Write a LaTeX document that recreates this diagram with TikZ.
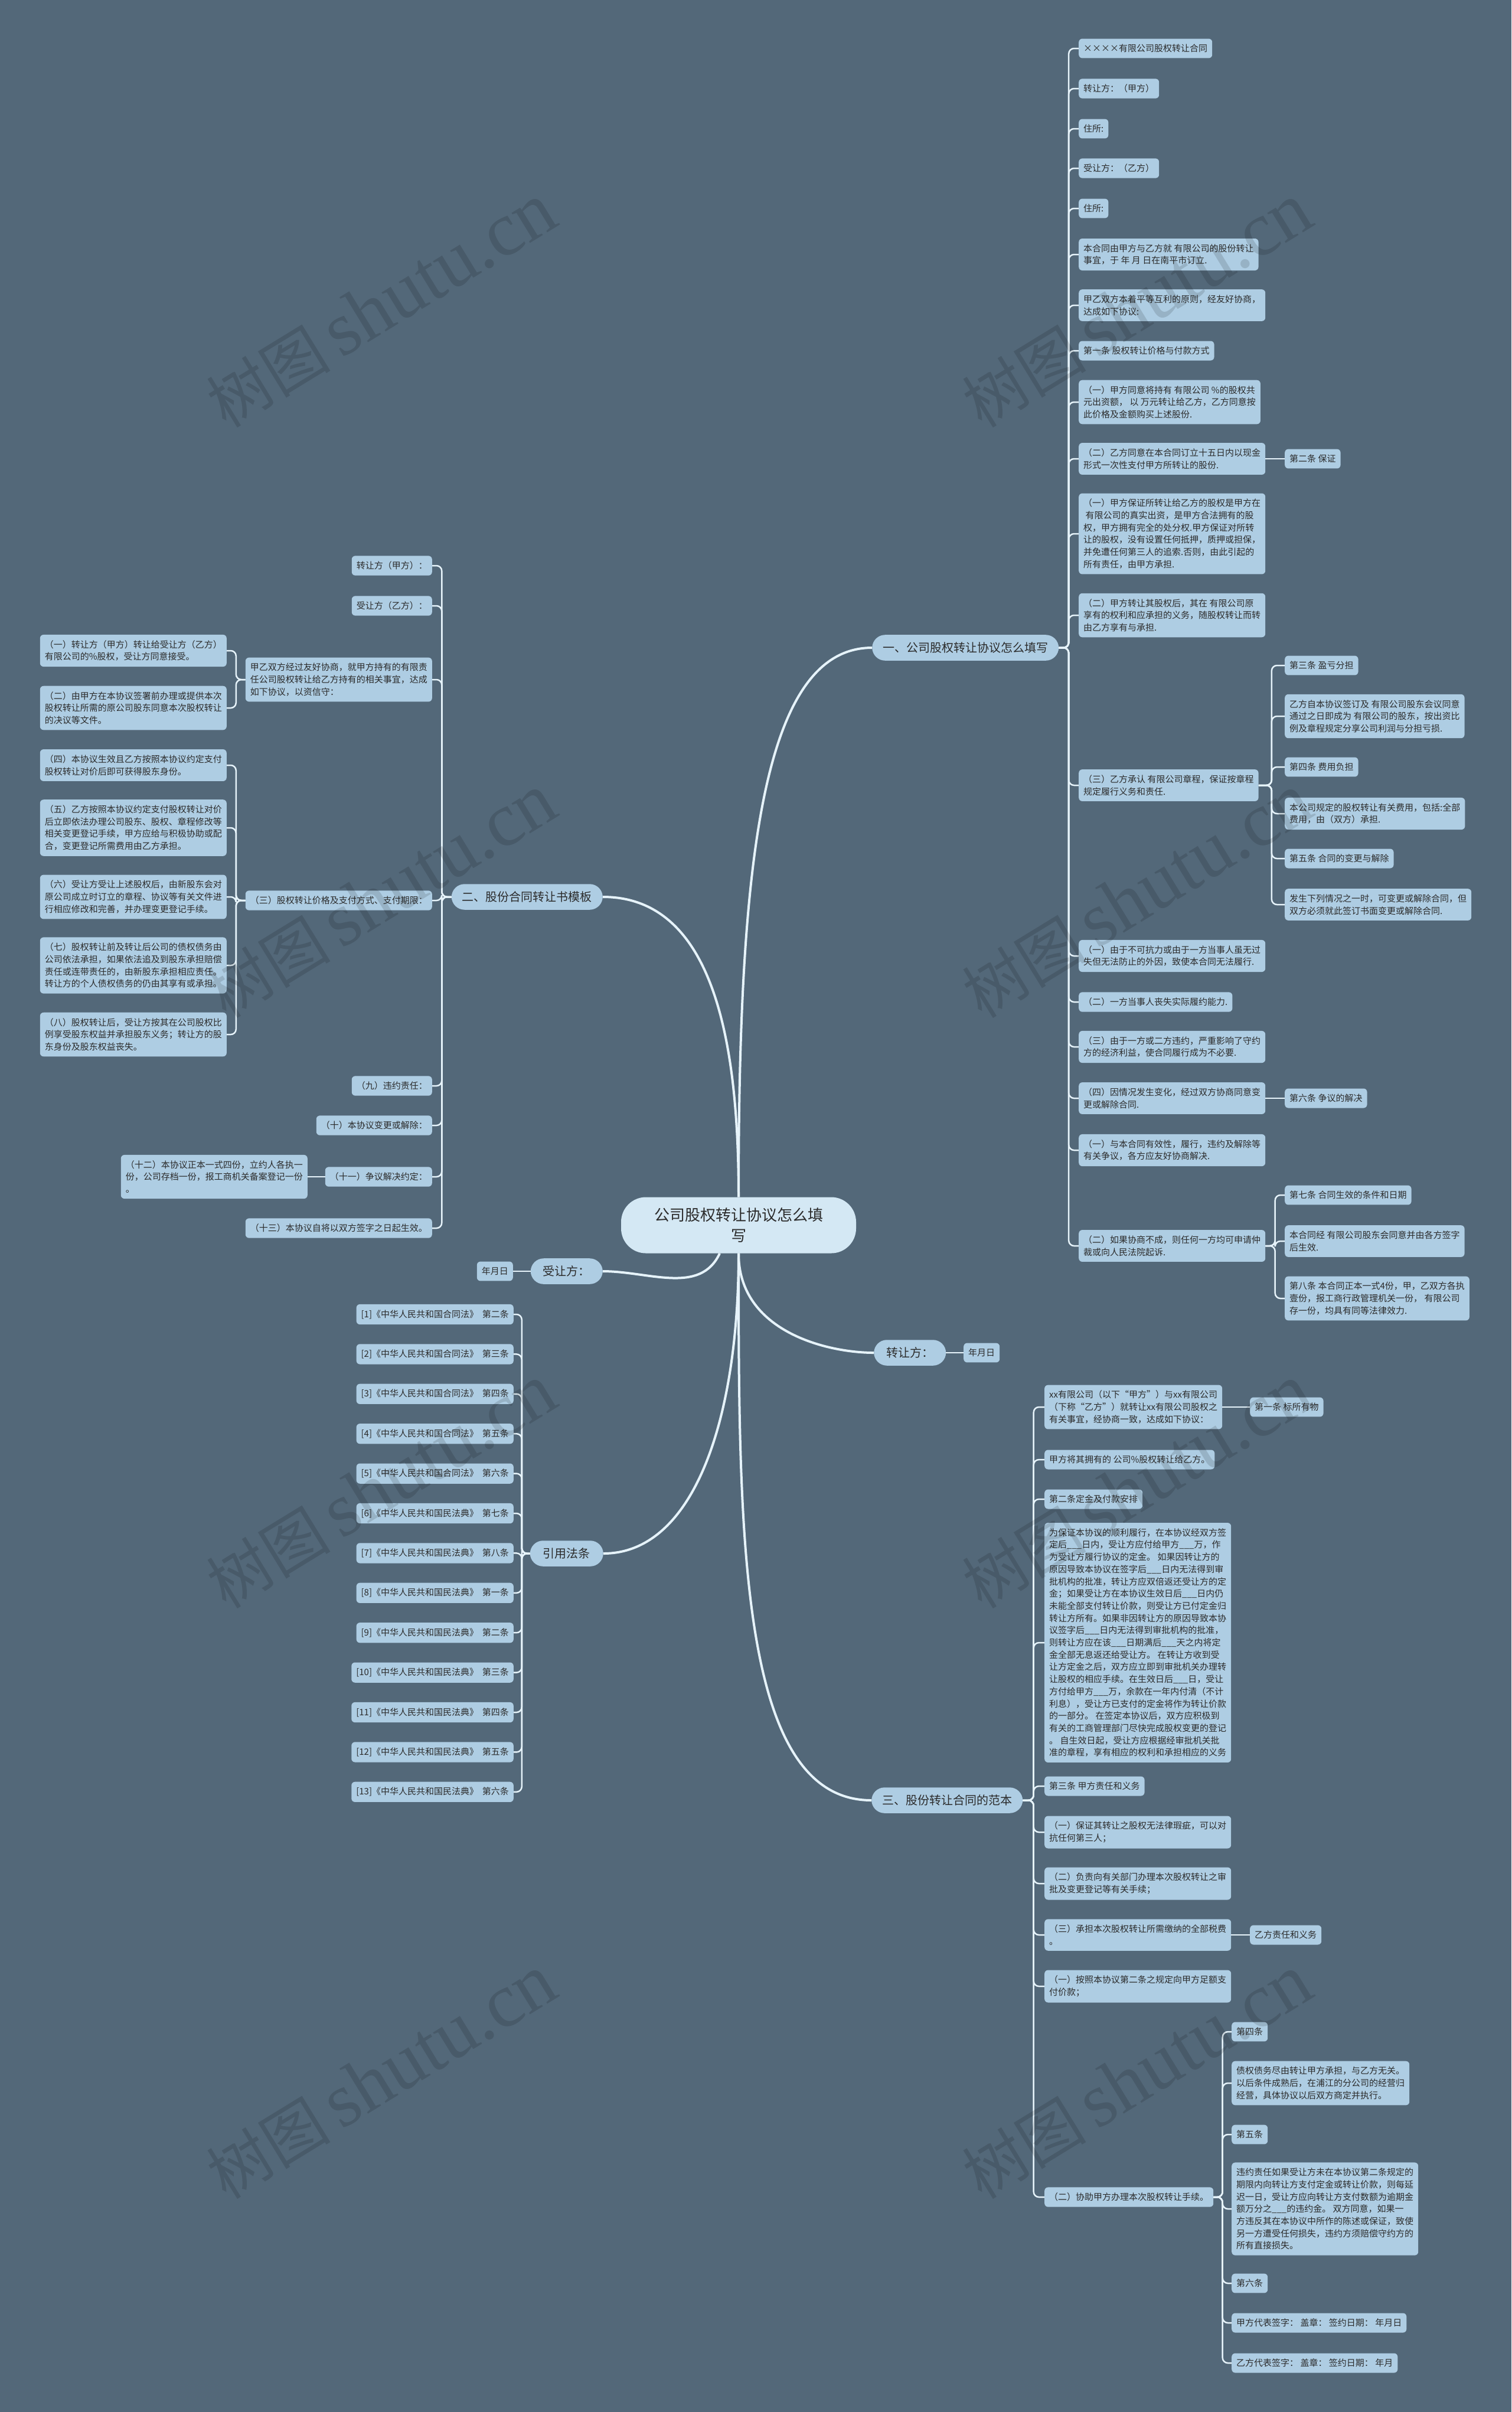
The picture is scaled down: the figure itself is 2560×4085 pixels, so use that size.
\documentclass[tikz,border=0pt]{standalone}
\usepackage{fontspec}
\setmainfont{Noto Sans CJK SC}
\newfontfamily\wmserif{Liberation Serif}
\usetikzlibrary{calc}
\definecolor{bgc}{HTML}{536879}
\definecolor{leafc}{HTML}{AECDE3}
\definecolor{rootc}{HTML}{D4E8F4}
\definecolor{linec}{HTML}{E6F3FA}
\definecolor{txtc}{HTML}{2B2B2B}
\tikzset{
 leaf/.style={fill=leafc, rounded corners=6pt, text=txtc, font=\fontsize{15}{20.7}\selectfont, inner xsep=8pt, inner ysep=9.5pt, align=left},
 lvone/.style={fill=leafc, rounded corners=22pt, text=txtc, font=\fontsize{20}{26}\selectfont, inner xsep=18pt, inner ysep=12.5pt},
 rootn/.style={fill=rootc, rounded corners=42pt, text=txtc, font=\fontsize{26}{35}\selectfont, minimum width=398pt, minimum height=95pt, align=center},
 conn/.style={draw=linec, line width=2.5pt, rounded corners=9pt},
 mainconn/.style={draw=linec, line width=4pt},
 wmark/.style={rotate=31.5, text=black, opacity=0.13},
}
\newcommand{\conR}[2]{\draw[conn] let \p1=(#1.east), \p2=(#2.west) in (\p1) -- ({(\x1+\x2)/2},\y1) |- (\p2);}
\newcommand{\conL}[2]{\draw[conn] let \p1=(#1.west), \p2=(#2.east) in (\p1) -- ({(\x1+\x2)/2},\y1) |- (\p2);}
\begin{document}
\begin{tikzpicture}[x=1pt,y=1pt]
\fill[bgc] (0,0) rectangle (2560,-4085);
\useasboundingbox (0,0) rectangle (2560,-4085);

% root
\node[rootn] (root) at (1251,-2075) {公司股权转让协议怎么填\\写};

% ---------- branch 1 ----------
\node[lvone, anchor=west] (b1) at (1477,-1097) {一、公司股权转让协议怎么填写};
\begin{scope}[every node/.style={leaf, anchor=west}]
\node (a1) at (1827,-82) {××××有限公司股权转让合同};
\node (a2) at (1827,-150) {转让方：（甲方）};
\node (a3) at (1827,-218) {住所:};
\node (a4) at (1827,-285) {受让方：（乙方）};
\node (a5) at (1827,-353) {住所:};
\node (a6) at (1827,-431) {本合同由甲方与乙方就 有限公司的股份转让\\事宜，于 年 月 日在南平市订立.};
\node (a7) at (1827,-517) {甲乙双方本着平等互利的原则，经友好协商，\\达成如下协议:};
\node (a8) at (1827,-594) {第一条 股权转让价格与付款方式};
\node (a9) at (1827,-681) {（一）甲方同意将持有 有限公司 \%的股权共\\元出资额， 以 万元转让给乙方，乙方同意按\\此价格及金额购买上述股份.};
\node (a10) at (1827,-777) {（二）乙方同意在本合同订立十五日内以现金\\形式一次性支付甲方所转让的股份.};
\node (a10c) at (2176,-777) {第二条 保证};
\node (a11) at (1827,-904) {（一）甲方保证所转让给乙方的股权是甲方在\\~有限公司的真实出资，是甲方合法拥有的股\\权，甲方拥有完全的处分权.甲方保证对所转\\让的股权，没有设置任何抵押，质押或担保，\\并免遭任何第三人的追索.否则，由此引起的\\所有责任，由甲方承担.};
\node (a12) at (1827,-1042) {（二）甲方转让其股权后，其在 有限公司原\\享有的权利和应承担的义务，随股权转让而转\\由乙方享有与承担.};
\node (a13) at (1827,-1330) {（三）乙方承认 有限公司章程，保证按章程\\规定履行义务和责任.};
\node (a13a) at (2176,-1127) {第三条 盈亏分担};
\node (a13b) at (2176,-1213) {乙方自本协议签订及 有限公司股东会议同意\\通过之日即成为 有限公司的股东，按出资比\\例及章程规定分享公司利润与分担亏损.};
\node (a13c) at (2176,-1299) {第四条 费用负担};
\node (a13d) at (2176,-1378) {本公司规定的股权转让有关费用，包括:全部\\费用，由（双方）承担.};
\node (a13e) at (2176,-1454) {第五条 合同的变更与解除};
\node (a13f) at (2176,-1532) {发生下列情况之一时，可变更或解除合同，但\\双方必须就此签订书面变更或解除合同.};
\node (a14) at (1827,-1619) {（一）由于不可抗力或由于一方当事人虽无过\\失但无法防止的外因，致使本合同无法履行.};
\node (a15) at (1827,-1697) {（二）一方当事人丧失实际履约能力.};
\node (a16) at (1827,-1773) {（三）由于一方或二方违约，严重影响了守约\\方的经济利益，使合同履行成为不必要.};
\node (a17) at (1827,-1860) {（四）因情况发生变化，经过双方协商同意变\\更或解除合同.};
\node (a17c) at (2176,-1860) {第六条 争议的解决};
\node (a18) at (1827,-1948) {（一）与本合同有效性，履行，违约及解除等\\有关争议，各方应友好协商解决.};
\node (a19) at (1827,-2110) {（二）如果协商不成，则任何一方均可申请仲\\裁或向人民法院起诉.};
\node (a19a) at (2176,-2024) {第七条 合同生效的条件和日期};
\node (a19b) at (2176,-2102) {本合同经 有限公司股东会同意并由各方签字\\后生效.};
\node (a19c) at (2176,-2199) {第八条 本合同正本一式4份，甲，乙双方各执\\壹份，报工商行政管理机关一份， 有限公司\\存一份，均具有同等法律效力.};
\end{scope}
\foreach \nd in {a1,a2,a3,a4,a5,a6,a7,a8,a9,a10,a11,a12,a13,a14,a15,a16,a17,a18,a19} {\conR{b1}{\nd}}
\draw[conn] (a10.east) -- (a10c.west);
\draw[conn] (a17.east) -- (a17c.west);
\foreach \nd in {a13a,a13b,a13c,a13d,a13e,a13f} {\conR{a13}{\nd}}
\foreach \nd in {a19a,a19b,a19c} {\conR{a19}{\nd}}

% ---------- branch 2 ----------
\node[lvone, anchor=east] (b2) at (1021,-1519) {二、股份合同转让书模板};
\begin{scope}[every node/.style={leaf, anchor=east}]
\node (l1) at (732,-958) {转让方（甲方）：};
\node (l2) at (732,-1026) {受让方（乙方）：};
\node (l3) at (732,-1151) {甲乙双方经过友好协商，就甲方持有的有限责\\任公司股权转让给乙方持有的相关事宜，达成\\如下协议，以资信守：};
\node (l3a) at (384,-1102) {（一）转让方（甲方）转让给受让方（乙方）\\有限公司的\%股权，受让方同意接受。};
\node (l3b) at (384,-1199) {（二）由甲方在本协议签署前办理或提供本次\\股权转让所需的原公司股东同意本次股权转让\\的决议等文件。};
\node (l4) at (732,-1525) {（三）股权转让价格及支付方式、支付期限：};
\node (l4a) at (384,-1296) {（四）本协议生效且乙方按照本协议约定支付\\股权转让对价后即可获得股东身份。};
\node (l4b) at (384,-1402) {（五）乙方按照本协议约定支付股权转让对价\\后立即依法办理公司股东、股权、章程修改等\\相关变更登记手续，甲方应给与积极协助或配\\合，变更登记所需费用由乙方承担。};
\node (l4c) at (384,-1519) {（六）受让方受让上述股权后，由新股东会对\\原公司成立时订立的章程、协议等有关文件进\\行相应修改和完善，并办理变更登记手续。};
\node (l4d) at (384,-1635) {（七）股权转让前及转让后公司的债权债务由\\公司依法承担，如果依法追及到股东承担赔偿\\责任或连带责任的，由新股东承担相应责任。\\转让方的个人债权债务的仍由其享有或承担。};
\node (l4e) at (384,-1752) {（八）股权转让后，受让方按其在公司股权比\\例享受股东权益并承担股东义务；转让方的股\\东身份及股东权益丧失。};
\node (l5) at (732,-1839) {（九）违约责任：};
\node (l6) at (732,-1906) {（十）本协议变更或解除：};
\node (l7) at (732,-1993) {（十一）争议解决约定：};
\node (l7a) at (521,-1993) {（十二）本协议正本一式四份，立约人各执一\\份，公司存档一份，报工商机关备案登记一份\\。};
\node (l8) at (732,-2080) {（十三）本协议自将以双方签字之日起生效。};
\end{scope}
\foreach \nd in {l1,l2,l3,l4,l5,l6,l7,l8} {\conL{b2}{\nd}}
\foreach \nd in {l3a,l3b} {\conL{l3}{\nd}}
\foreach \nd in {l4a,l4b,l4c,l4d,l4e} {\conL{l4}{\nd}}
\draw[conn] (l7.west) -- (l7a.east);

% ---------- 受让方 / 转让方 ----------
\node[lvone, anchor=east, minimum width=122pt] (bs) at (1021,-2153) {受让方：};
\node[leaf, anchor=east] (bsd) at (869,-2153) {年月日};
\draw[conn] (bs.west) -- (bsd.east);
\node[lvone, anchor=west, minimum width=122pt] (bz) at (1480,-2291) {转让方：};
\node[leaf, anchor=west] (bzd) at (1632,-2291) {年月日};
\draw[conn] (bz.east) -- (bzd.west);

% ---------- 引用法条 ----------
\node[lvone, anchor=east, minimum width=124pt] (bc) at (1022,-2631) {引用法条};
\begin{scope}[every node/.style={leaf, anchor=east}]
\node (r1) at (870,-2226) {[1]《中华人民共和国合同法》\ \ 第二条};
\node (r2) at (870,-2293.4) {[2]《中华人民共和国合同法》\ \ 第三条};
\node (r3) at (870,-2360.8) {[3]《中华人民共和国合同法》\ \ 第四条};
\node (r4) at (870,-2428.2) {[4]《中华人民共和国合同法》\ \ 第五条};
\node (r5) at (870,-2495.6) {[5]《中华人民共和国合同法》\ \ 第六条};
\node (r6) at (870,-2563) {[6]《中华人民共和国民法典》\ \ 第七条};
\node (r7) at (870,-2630.4) {[7]《中华人民共和国民法典》\ \ 第八条};
\node (r8) at (870,-2697.8) {[8]《中华人民共和国民法典》\ \ 第一条};
\node (r9) at (870,-2765.2) {[9]《中华人民共和国民法典》\ \ 第二条};
\node (r10) at (870,-2832.6) {[10]《中华人民共和国民法典》\ \ 第三条};
\node (r11) at (870,-2900) {[11]《中华人民共和国民法典》\ \ 第四条};
\node (r12) at (870,-2967.4) {[12]《中华人民共和国民法典》\ \ 第五条};
\node (r13) at (870,-3034.8) {[13]《中华人民共和国民法典》\ \ 第六条};
\end{scope}
\foreach \nd in {r1,r2,r3,r4,r5,r6,r7,r8,r9,r10,r11,r12,r13} {\conL{bc}{\nd}}

% ---------- branch 3 ----------
\node[lvone, anchor=west] (b3) at (1476,-3049) {三、股份转让合同的范本};
\begin{scope}[every node/.style={leaf, anchor=west}]
\node (t1) at (1769,-2383) {xx有限公司（以下“甲方”）与xx有限公司\\（下称“乙方”）就转让xx有限公司股权之\\有关事宜，经协商一致，达成如下协议：};
\node (t1c) at (2117,-2383) {第一条 标所有物};
\node (t2) at (1769,-2472) {甲方将其拥有的 公司\%股权转让给乙方。};
\node (t3) at (1769,-2539) {第二条定金及付款安排};
\node (t4) at (1769,-2782) {为保证本协议的顺利履行，在本协议经双方签\\定后\_\_\_日内，受让方应付给甲方\_\_\_万，作\\为受让方履行协议的定金。 如果因转让方的\\原因导致本协议在签字后\_\_\_日内无法得到审\\批机构的批准，转让方应双倍返还受让方的定\\金；如果受让方在本协议生效日后\_\_\_日内仍\\未能全部支付转让价款，则受让方已付定金归\\转让方所有。如果非因转让方的原因导致本协\\议签字后\_\_\_日内无法得到审批机构的批准，\\则转让方应在该\_\_\_日期满后\_\_\_天之内将定\\金全部无息返还给受让方。 在转让方收到受\\让方定金之后，双方应立即到审批机关办理转\\让股权的相应手续。在生效日后\_\_\_日，受让\\方付给甲方\_\_\_万，余款在一年内付清（不计\\利息），受让方已支付的定金将作为转让价款\\的一部分。 在签定本协议后，双方应积极到\\有关的工商管理部门尽快完成股权变更的登记\\。 自生效日起，受让方应根据经审批机关批\\准的章程，享有相应的权利和承担相应的义务};
\node (t5) at (1769,-3025) {第三条 甲方责任和义务};
\node (t6) at (1769,-3103) {（一）保证其转让之股权无法律瑕疵，可以对\\抗任何第三人；};
\node (t7) at (1769,-3190) {（二）负责向有关部门办理本次股权转让之审\\批及变更登记等有关手续；};
\node (t8) at (1769,-3277) {（三）承担本次股权转让所需缴纳的全部税费\\。};
\node (t8c) at (2117,-3277) {乙方责任和义务};
\node (t9) at (1769,-3364) {（一）按照本协议第二条之规定向甲方足额支\\付价款；};
\node (t10) at (1769,-3721) {（二）协助甲方办理本次股权转让手续。};
\node (t10a) at (2086,-3441) {第四条};
\node (t10b) at (2086,-3528) {债权债务尽由转让甲方承担，与乙方无关。\\以后条件成熟后，在浦江的分公司的经营归\\经营，具体协议以后双方商定并执行。};
\node (t10c) at (2086,-3615) {第五条};
\node (t10d) at (2086,-3741) {违约责任如果受让方未在本协议第二条规定的\\期限内向转让方支付定金或转让价款，则每延\\迟一日，受让方应向转让方支付数额为逾期金\\额万分之\_\_\_的违约金。 双方同意，如果一\\方违反其在本协议中所作的陈述或保证，致使\\另一方遭受任何损失，违约方须赔偿守约方的\\所有直接损失。};
\node (t10e) at (2086,-3867) {第六条};
\node (t10f) at (2086,-3934) {甲方代表签字：\ 盖章：\ 签约日期：\ 年月日};
\node (t10g) at (2086,-4002) {乙方代表签字：\ 盖章：\ 签约日期：\ 年月};
\end{scope}
\foreach \nd in {t1,t2,t3,t4,t5,t6,t7,t8,t9,t10} {\conR{b3}{\nd}}
\draw[conn] (t1.east) -- (t1c.west);
\draw[conn] (t8.east) -- (t8c.west);
\foreach \nd in {t10a,t10b,t10c,t10d,t10e,t10f,t10g} {\conR{t10}{\nd}}

% ---------- root connectors ----------
\draw[mainconn] (root.north) to[out=90,in=180,out looseness=1.5,in looseness=0.5] (b1.west);
\draw[mainconn] (root.north) to[out=90,in=0,out looseness=1.1,in looseness=0.9] (b2.east);
\coordinate (rootsl) at ($(root.south)+(-32,0)$);
\draw[mainconn] (rootsl) to[out=-115,in=0] (bs.east);
\draw[mainconn] (root.south) to[out=-90,in=180,out looseness=1.2,in looseness=0.7] (bz.west);
\draw[mainconn] (root.south) to[out=-90,in=0,out looseness=1.3,in looseness=0.7] (bc.east);
\draw[mainconn] (root.south) to[out=-90,in=180,out looseness=1.3,in looseness=0.6] (b3.west);

% ---------- watermarks ----------
\foreach \wx/\wy [count=\i] in {646/518,1926/518,646/1518,1926/1518,646/2518,1926/2518,646/3518,1926/3518}
  {\node[wmark] (wm\i) at (\wx,-\wy) {{\fontsize{105}{110}\selectfont 树图}\hspace{18pt}{\wmserif\fontsize{130}{140}\selectfont shutu.cn}};}
\end{tikzpicture}
\end{document}
